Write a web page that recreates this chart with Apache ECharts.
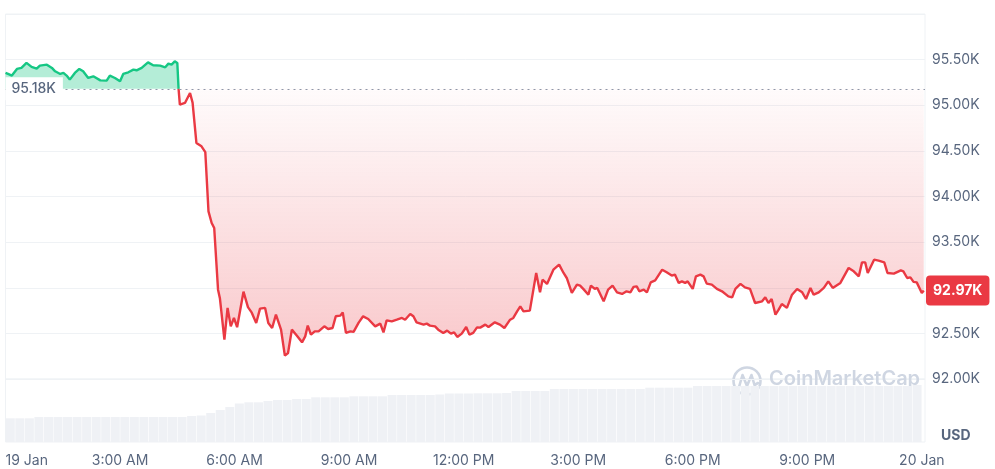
<!DOCTYPE html>
<html>
<head>
<meta charset="utf-8">
<title>BTC / USD - 24h</title>
<script src="https://cdn.jsdelivr.net/npm/echarts@6/dist/echarts.min.js"></script>
<style>
    html, body { margin: 0; padding: 0; background: #fff; }
    #chart { width: 995px; height: 469px; }
</style>
</head>
<body>
<div id="chart"></div>
<script>
// minutes since 19 Jan 00:00
var times = [
    0, 4, 10, 18, 25, 33, 41, 49, 54, 65, 73, 78, 86, 91, 96, 101, 109, 116, 122, 130,
    138, 149, 159, 164, 172, 180, 185, 193, 201, 206, 214, 224, 232, 243, 251, 256, 261, 266, 270, 272,
    274, 282, 290, 294, 300, 308, 314, 319, 324, 328, 334, 337, 344, 349, 354, 359, 364, 374, 381, 387,
    394, 400, 408, 413, 419, 425, 433, 439, 444, 450, 458, 466, 471, 475, 480, 486, 492, 501, 507, 514,
    519, 526, 530, 535, 542, 547, 555, 562, 570, 581, 589, 594, 599, 607, 615, 623, 628, 636, 641, 646,
    657, 662, 667, 675, 680, 688, 694, 700, 705, 710, 717, 724, 729, 735, 741, 746, 754, 759, 769, 777,
    784, 793, 798, 804, 809, 814, 824, 834, 840, 844, 851, 861, 870, 877, 882, 890, 898, 903, 909, 916,
    920, 926, 930, 940, 947, 954, 961, 969, 976, 982, 987, 992, 996, 1003, 1008, 1014, 1021, 1032, 1039, 1047,
    1052, 1058, 1063, 1068, 1072, 1080, 1085, 1092, 1097, 1102, 1110, 1118, 1126, 1136, 1142, 1147, 1155, 1162, 1170, 1178,
    1189, 1194, 1199, 1204, 1210, 1215, 1220, 1228, 1236, 1244, 1252, 1258, 1265, 1270, 1278, 1286, 1293, 1300, 1312, 1325,
    1333, 1341, 1346, 1351, 1355, 1365, 1372, 1381, 1386, 1396, 1407, 1411, 1417, 1422, 1427, 1432, 1440, 1443
];
var prices = [
    95354, 95343, 95325, 95398, 95409, 95464, 95420, 95401, 95434, 95445, 95409, 95372, 95343, 95354, 95325, 95281, 95354, 95398, 95372, 95299,
    95317, 95273, 95270, 95325, 95299, 95262, 95343, 95361, 95390, 95383, 95409, 95470, 95438, 95434, 95416, 95456, 95445, 95481, 95464, 95180,
    95007, 95025, 95135, 95029, 94587, 94550, 94486, 93837, 93710, 93655, 92979, 92881, 92431, 92779, 92577, 92669, 92568, 92957, 92787, 92727,
    92614, 92771, 92779, 92614, 92559, 92705, 92541, 92256, 92285, 92541, 92475, 92402, 92467, 92585, 92486, 92522, 92522, 92577, 92548, 92559,
    92687, 92694, 92730, 92505, 92522, 92516, 92618, 92687, 92658, 92577, 92607, 92511, 92643, 92632, 92650, 92669, 92650, 92713, 92687, 92621,
    92596, 92607, 92585, 92577, 92541, 92505, 92530, 92497, 92511, 92461, 92497, 92570, 92486, 92505, 92566, 92563, 92596, 92570, 92621, 92596,
    92559, 92650, 92669, 92741, 92796, 92741, 92749, 93162, 92950, 93089, 93042, 93198, 93253, 93162, 93107, 92943, 93034, 93023, 92979, 92924,
    93023, 92987, 92998, 92851, 92979, 93023, 92950, 92932, 92961, 92950, 93009, 93015, 92961, 92979, 92950, 93059, 93081, 93198, 93169, 93133,
    93144, 93053, 93070, 93053, 93070, 92987, 93125, 93144, 93125, 93045, 93034, 92987, 92961, 92906, 92895, 92987, 93042, 93004, 92987, 92833,
    92851, 92895, 92833, 92877, 92705, 92760, 92822, 92779, 92924, 92987, 92950, 92877, 92998, 92924, 92950, 92998, 93070, 92998, 93053, 93217,
    93180, 93125, 93278, 93278, 93162, 93308, 93297, 93278, 93162, 93155, 93191, 93180, 93107, 93114, 93064, 93059, 92943, 92970
];
// 15 minute volume buckets (relative units)
var volumes = [
    23.7, 23.7, 23.7, 25, 25, 25, 25, 25, 25, 25, 25, 25, 25, 25, 25, 25, 25, 25, 25, 26,
    26.5, 29, 32, 35, 38.5, 39.7, 39.7, 41, 42, 42, 43, 43, 44.7, 44.7, 44.7, 44.7, 45.7, 45.7, 45.7, 45.7,
    47, 47, 47, 47, 47, 47.5, 48.5, 48.5, 48.5, 48.7, 48.7, 48.7, 49, 51, 51, 51, 51, 53, 53, 53,
    53, 53, 53, 53, 53, 53, 53, 54.3, 54.3, 54.3, 54.3, 54.3, 56, 56, 56, 56, 56, 56, 56, 56,
    56, 56, 56, 56, 56, 56, 56, 56, 56, 56, 56, 56, 56, 56, 56, 57
];
var xTickLabels = ['19 Jan', '3:00 AM', '6:00 AM', '9:00 AM', '12:00 PM', '3:00 PM', '6:00 PM', '9:00 PM', '20 Jan'];
var openPrice = 95180;
var lastPrice = 92970;

var volStep = 15;
var xMax = 1445;
var fontFamily = 'Inter, "Noto Sans", sans-serif';
var textGray = '#58667e';
var lineGrid = '#eff2f5';
var markGray = '#cfd6e2';

function fmtK(v) {
    return (v / 1000).toFixed(2) + 'K';
}

// split the price line where it first drops to the open price
var splitAt = 0;
for (var i = 0; i < prices.length; i++) {
    if (prices[i] <= openPrice) { splitAt = i; break; }
}
var upData = [], downData = [], volData = [];
for (var j = 0; j < times.length; j++) {
    if (j <= splitAt) upData.push([times[j], prices[j]]);
    if (j >= splitAt) downData.push([times[j], prices[j]]);
}
for (var k = 0; k < volumes.length; k++) {
    volData.push([k * volStep + volStep / 2, volumes[k]]);
}

var myChart = echarts.init(document.getElementById('chart'));
myChart.setOption({
    animation: false,
    textStyle: { fontFamily: fontFamily },
    grid: [
        { left: 5.5, right: 70, top: 14, height: 365, show: true, borderColor: lineGrid, borderWidth: 1 },
        { left: 5.5, right: 70, top: 379, height: 63, show: true, borderColor: lineGrid, borderWidth: 1 }
    ],
    xAxis: [
        { type: 'value', gridIndex: 0, min: 0, max: xMax, interval: 180, show: false },
        {
            type: 'value', gridIndex: 1, min: 0, max: xMax, interval: 180,
            axisLine: { show: false },
            axisTick: { show: false },
            splitLine: { show: false },
            axisLabel: {
                color: textGray,
                fontSize: 14,
                margin: 12,
                alignMinLabel: 'left',
                formatter: function (v) {
                    return v % 180 === 0 ? (xTickLabels[v / 180] || '') : '';
                }
            }
        }
    ],
    yAxis: [
        {
            type: 'value', gridIndex: 0, position: 'right',
            min: 92000, max: 96000, interval: 500,
            axisLine: { show: false },
            axisTick: { show: false },
            splitLine: { lineStyle: { color: lineGrid, width: 1 } },
            axisLabel: {
                showMaxLabel: false,
                margin: 7,
                color: textGray,
                fontSize: 14,
                formatter: fmtK
            }
        },
        { type: 'value', gridIndex: 1, min: 0, max: 63, show: false }
    ],
    graphic: [
        {
            type: 'group', left: 731, top: 365, silent: true, z: 1,
            children: [
                { type: 'circle', shape: { cx: 15, cy: 15, r: 13.5 }, style: { fill: 'none', stroke: markGray, lineWidth: 2.6 } },
                { type: 'polyline', shape: { points: [[7, 21], [10.5, 9], [15, 20], [19.5, 9], [22.5, 19], [26, 17]] }, style: { fill: 'none', stroke: markGray, lineWidth: 2.6, lineJoin: 'round', lineCap: 'round' } }
            ]
        },
        {
            type: 'text', left: 769, top: 369, silent: true, z: 1,
            style: { text: 'CoinMarketCap', fill: markGray, font: '600 20px ' + fontFamily }
        },
        {
            type: 'text', left: 941, top: 429, silent: true,
            style: { text: 'USD', fill: textGray, font: 'bold 14px ' + fontFamily }
        }
    ],
    series: [
        {
            type: 'bar', xAxisIndex: 1, yAxisIndex: 1,
            data: volData, barWidth: 9, silent: true,
            itemStyle: { color: '#eff1f5' }
        },
        {
            type: 'line', xAxisIndex: 0, yAxisIndex: 0,
            data: upData, symbol: 'none', silent: true,
            lineStyle: { color: '#16c784', width: 2.4 },
            itemStyle: { color: '#16c784' },
            areaStyle: { origin: openPrice, color: 'rgba(22,199,132,0.32)', opacity: 1 }
        },
        {
            type: 'line', xAxisIndex: 0, yAxisIndex: 0,
            data: downData, symbol: 'none', silent: true,
            lineStyle: { color: '#ea3943', width: 2.4 },
            itemStyle: { color: '#ea3943' },
            areaStyle: {
                origin: openPrice,
                opacity: 1,
                color: new echarts.graphic.LinearGradient(0, 0, 0, 1, [
                    { offset: 0, color: 'rgba(234,57,67,0.02)' },
                    { offset: 1, color: 'rgba(234,57,67,0.28)' }
                ])
            },
            markLine: {
                silent: true, symbol: 'none',
                label: { show: false },
                lineStyle: { color: '#8f97a8', type: [2, 4], width: 1, opacity: 1 },
                data: [{ yAxis: openPrice }]
            },
            markPoint: {
                silent: true, symbol: 'circle', symbolSize: 0,
                data: [
                    {
                        coord: [0, openPrice],
                        label: {
                            show: true, position: 'right', distance: 0,
                            formatter: fmtK(openPrice),
                            color: textGray, fontSize: 14, fontWeight: 500,
                            backgroundColor: '#fff', padding: [5, 7, 4, 6]
                        }
                    },
                    {
                        coord: [xMax, lastPrice],
                        label: {
                            show: true, position: 'right', distance: 1,
                            formatter: fmtK(lastPrice),
                            color: '#fff', fontSize: 14, fontWeight: 'bold',
                            backgroundColor: '#ea3943', borderRadius: 4, padding: [8, 7]
                        }
                    }
                ]
            }
        }
    ]
});
</script>
</body>
</html>
